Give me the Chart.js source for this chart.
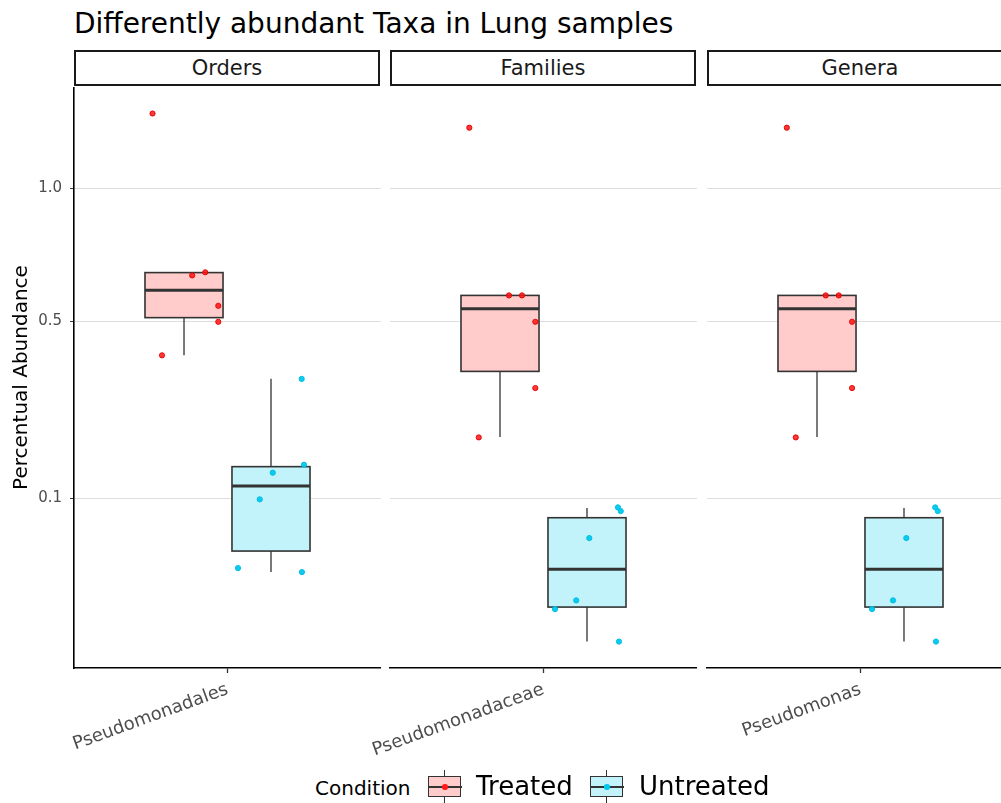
<!DOCTYPE html>
<html>
<head>
<meta charset="utf-8">
<script src="https://cdn.jsdelivr.net/npm/chart.js@4.4.1/dist/chart.umd.min.js"></script>
<style>
  html, body { margin: 0; padding: 0; background: #fff; }
  body { width: 1001px; height: 803px; overflow: hidden; position: relative; font-family: "DejaVu Sans", sans-serif; }
  .title { position: absolute; left: 74px; top: 10px; font-size: 28px; line-height: 28px; color: #000; white-space: nowrap; }
  .strip { position: absolute; top: 50px; height: 32px; border: 2px solid #1a1a1a; box-sizing: content-box;
           font-size: 21px; line-height: 32px; text-align: center; color: #1a1a1a; }
  canvas { position: absolute; top: 87px; }
  .legend-text { position: absolute; white-space: nowrap; color: #000; }
  .key { position: absolute; top: 770px; width: 34px; height: 40px; }
  .key .whisker { position: absolute; left: 16px; top: 0; width: 1.4px; height: 40px; background: #333; }
  .key .box { position: absolute; left: 0; top: 6px; width: 31px; height: 19px; border: 1.5px solid #333; }
  .key .med { position: absolute; left: 0; top: 16px; width: 34px; height: 2px; background: #333; }
  .key .dot { position: absolute; left: 14px; top: 14px; width: 5.5px; height: 5.5px; border-radius: 50%; }
</style>
</head>
<body>
<div class="title">Differently abundant Taxa in Lung samples</div>
<div class="strip" style="left:74px;width:302px;">Orders</div>
<div class="strip" style="left:390px;width:302px;">Families</div>
<div class="strip" style="left:707px;width:302px;">Genera</div>

<canvas id="panel0" width="381" height="683" style="left:0px;width:381px;height:683px;"></canvas>
<canvas id="panel1" width="347" height="683" style="left:350px;width:347px;height:683px;"></canvas>
<canvas id="panel2" width="347" height="683" style="left:667px;width:347px;height:683px;"></canvas>

<div class="legend-text" style="left:315px;top:776px;font-size:20px;">Condition</div>
<div class="key" style="left:428px;">
  <div class="whisker"></div>
  <div class="box" style="background:#ffcccb;"></div>
  <div class="med"></div>
  <div class="dot" style="background:#ff1a1a;"></div>
</div>
<div class="legend-text" style="left:476px;top:771px;font-size:26px;">Treated</div>
<div class="key" style="left:590px;">
  <div class="whisker"></div>
  <div class="box" style="background:#c2f2fa;"></div>
  <div class="med"></div>
  <div class="dot" style="background:#00c8ee;"></div>
</div>
<div class="legend-text" style="left:639px;top:771px;font-size:26px;">Untreated</div>

<script>
// facets and axis labels
const facets = ['Orders', 'Families', 'Genera'];
const taxa = ['Pseudomonadales', 'Pseudomonadaceae', 'Pseudomonas'];
const conditions = ['Treated', 'Untreated'];
const yTickValues = [0.1, 0.5, 1.0];
const yTickLabels = ['0.1', '0.5', '1.0'];

// box stats, per facet: [Treated, Untreated]
const boxLower  = [[0.399, 0.0235], [0.2036, 0.0], [0.2036, 0.0]];
const boxQ1     = [[0.511, 0.0399], [0.3555, 0.0058], [0.3555, 0.0058]];
const boxMedian = [[0.601, 0.1177], [0.5397, 0.0254], [0.5397, 0.0254]];
const boxQ3     = [[0.663, 0.149], [0.5835, 0.0747], [0.5835, 0.0747]];
const boxUpper  = [[0.665, 0.3364], [0.5835, 0.0868], [0.5835, 0.0868]];

// jittered sample points (x is position within the facet, 1 = category centre)
const treatedX = [
  [0.707, 0.862, 0.913, 0.964, 0.964, 0.744],
  [0.710, 0.865, 0.916, 0.968, 0.968, 0.747],
  [0.712, 0.864, 0.915, 0.967, 0.967, 0.747]
];
const treatedY = [
  [1.358, 0.653, 0.664, 0.549, 0.498, 0.399],
  [1.286, 0.5835, 0.5835, 0.498, 0.313, 0.203],
  [1.286, 0.5835, 0.5835, 0.498, 0.313, 0.203]
];
const untreatedX = [
  [1.290, 1.299, 1.177, 1.126, 1.041, 1.291],
  [1.291, 1.302, 1.179, 1.128, 1.045, 1.295],
  [1.292, 1.302, 1.179, 1.127, 1.045, 1.295]
];
const untreatedY = [
  [0.336, 0.1523, 0.1389, 0.0985, 0.0263, 0.0235],
  [0.0877, 0.0829, 0.0522, 0.00826, 0.00514, 0.0],
  [0.0877, 0.0829, 0.0522, 0.00826, 0.00514, 0.0]
];

const boxCenters = [0.83, 1.17];
const boxWidth = 0.305;
const fills = ['#ffcccb', '#c2f2fa'];

Chart.defaults.font.family = 'DejaVu Sans';

// y axis is square-root scaled, like scale_y_sqrt
const sq = v => Math.sqrt(Math.max(v, 0));

// draws the boxplots under the points
const boxPlugin = {
  id: 'boxes',
  beforeDatasetsDraw(chart, args, opts) {
    const f = opts.facet;
    const { ctx, scales: { x, y } } = chart;
    ctx.save();
    for (let g = 0; g < conditions.length; g++) {
      const xc = x.getPixelForValue(boxCenters[g]);
      const xl = x.getPixelForValue(boxCenters[g] - boxWidth / 2);
      const xr = x.getPixelForValue(boxCenters[g] + boxWidth / 2);
      const yLo = y.getPixelForValue(sq(boxLower[f][g]));
      const yQ1 = y.getPixelForValue(sq(boxQ1[f][g]));
      const yMed = y.getPixelForValue(sq(boxMedian[f][g]));
      const yQ3 = y.getPixelForValue(sq(boxQ3[f][g]));
      const yHi = y.getPixelForValue(sq(boxUpper[f][g]));

      ctx.strokeStyle = '#333';
      ctx.lineWidth = 1.3;
      ctx.beginPath();
      ctx.moveTo(xc, yQ1); ctx.lineTo(xc, yLo);
      ctx.moveTo(xc, yQ3); ctx.lineTo(xc, yHi);
      ctx.stroke();

      ctx.fillStyle = fills[g];
      ctx.fillRect(xl, yQ3, xr - xl, yQ1 - yQ3);
      ctx.lineWidth = 1.6;
      ctx.strokeRect(xl, yQ3, xr - xl, yQ1 - yQ3);

      ctx.lineWidth = 3;
      ctx.beginPath();
      ctx.moveTo(xl, yMed); ctx.lineTo(xr, yMed);
      ctx.stroke();
    }
    ctx.restore();
  }
};

function noPadding(scale) {
  scale.paddingLeft = 0; scale.paddingRight = 0;
  scale.paddingTop = 0; scale.paddingBottom = 0;
}

function makePanel(f) {
  const showY = f === 0;
  const ctx = document.getElementById('panel' + f).getContext('2d');

  new Chart(ctx, {
    type: 'scatter',
    data: {
      datasets: [
        {
          label: conditions[0],
          data: treatedX[f].map((x, i) => ({ x: x, y: sq(treatedY[f][i]) })),
          backgroundColor: 'rgba(255, 20, 20, 0.85)',
          borderColor: 'rgba(225, 0, 0, 0.9)',
          borderWidth: 1,
          pointRadius: 2.6
        },
        {
          label: conditions[1],
          data: untreatedX[f].map((x, i) => ({ x: x, y: sq(untreatedY[f][i]) })),
          backgroundColor: 'rgba(0, 200, 238, 0.95)',
          borderColor: 'rgba(0, 190, 228, 1)',
          borderWidth: 1,
          pointRadius: 2.6
        }
      ]
    },
    options: {
      responsive: false,
      animation: false,
      events: [],
      layout: { padding: 0, autoPadding: false },
      plugins: {
        legend: { display: false },
        tooltip: { enabled: false },
        boxes: { facet: f }
      },
      scales: {
        x: {
          type: 'linear',
          min: 0.4,
          max: 1.6,
          afterBuildTicks: s => { s.ticks = [{ value: 1 }]; },
          afterFit: s => { s.height = 102; noPadding(s); },
          ticks: {
            callback: () => taxa[f],
            minRotation: 20,
            maxRotation: 20,
            padding: 6,
            color: '#4d4d4d',
            font: { size: 18 }
          },
          grid: {
            drawOnChartArea: false,
            drawTicks: true,
            tickLength: 5,
            tickColor: '#333',
            tickWidth: 1.3
          },
          border: { display: true, color: '#000', width: 1.6 }
        },
        y: {
          type: 'linear',
          min: -0.0583,
          max: 1.2238,
          afterBuildTicks: s => { s.ticks = yTickValues.map(v => ({ value: sq(v) })); },
          afterFit: s => { s.width = showY ? 74 : 40; noPadding(s); },
          ticks: {
            display: showY,
            callback: (v, i) => yTickLabels[i],
            padding: 8,
            color: '#4d4d4d',
            font: { size: 15 }
          },
          grid: {
            color: '#dedede',
            lineWidth: 1,
            drawTicks: showY,
            tickLength: 4,
            tickColor: '#333'
          },
          border: { display: showY, color: '#000', width: 1.6 },
          title: {
            display: showY,
            text: 'Percentual Abundance',
            color: '#000',
            font: { size: 20 },
            padding: { top: 10, bottom: 0 }
          }
        }
      }
    },
    plugins: [boxPlugin]
  });
}

facets.forEach((name, f) => makePanel(f));
</script>
</body>
</html>
